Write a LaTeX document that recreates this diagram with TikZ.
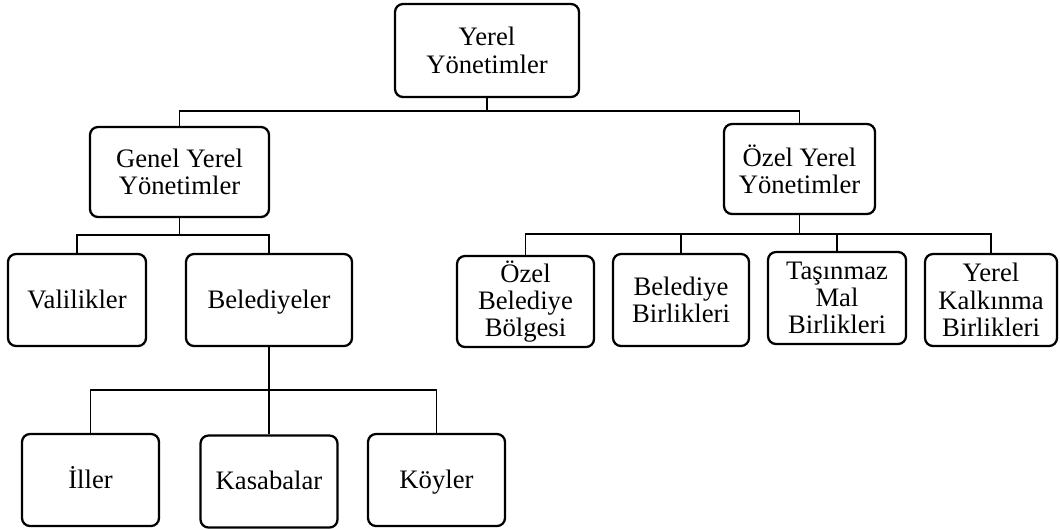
\documentclass[tikz,border=0pt]{standalone}
\usepackage{fontspec}
\setmainfont{Liberation Serif}
\usepackage{tikz}
\usetikzlibrary{positioning}

\begin{document}
\begin{tikzpicture}[x=0.75pt,y=0.75pt,yscale=-1,xscale=1,
    unit/.style={draw, line width=1.7pt, rounded corners=6pt, align=center, inner sep=0pt,
        font=\fontsize{20}{20.5}\selectfont},
    leaf/.style={unit, minimum width=102.75pt, minimum height=69pt},
    oneline/.style={text height=16pt, text depth=4pt},
    conn/.style={line width=1.4pt}]
    \useasboundingbox (0,0) rectangle (1060,529);

    % Top level
    \node [unit, minimum width=138pt, minimum height=69.75pt] (yerel) at (487,50.5) {Yerel\\Yönetimler};

    % Second level
    \node [unit, minimum width=134.25pt, minimum height=67.5pt] (genel) at (179.5,172) {Genel Yerel\\Yönetimler};
    \node [unit, minimum width=113.25pt, minimum height=67.5pt] (ozel) at (799.5,169) {Özel Yerel\\Yönetimler};

    % Genel yerel yonetimler
    \node [leaf, oneline, minimum width=103.5pt] (vali) at (77,300) {Valilikler};
    \node [leaf, oneline, minimum width=124.5pt] (beled) at (269,300) {Belediyeler};

    % Belediyeler
    \node [leaf, oneline, minimum height=69pt] (iller) at (90.5,480) {İller};
    \node [leaf, oneline, minimum height=69pt] (kasaba) at (269,481.5) {Kasabalar};
    \node [leaf, oneline, minimum height=69pt] (koy) at (436.5,480) {Köyler};

    % Ozel yerel yonetimler
    \node [leaf, minimum height=68.25pt] (obb) at (525.5,301.5) {Özel\\Belediye\\Bölgesi};
    \node [leaf, minimum width=102pt] (bbirlik) at (681,300) {Belediye\\Birlikleri};
    \node [leaf, minimum width=103.5pt] (tmbirlik) at (837,298) {Taşınmaz\\Mal\\Birlikleri};
    \node [leaf, minimum width=99pt] (ykbirlik) at (991,300) {Yerel\\Kalkınma\\Birlikleri};

    % Connectors
    \coordinate (bus1) at (487,111);
    \draw [conn] (yerel.south) -- (bus1) -| (genel.north);
    \draw [conn] (bus1) -| (ozel.north);

    \coordinate (bus2) at (179.5,235);
    \draw [conn] (genel.south) -- (bus2) -| (vali.north);
    \draw [conn] (bus2) -| (beled.north);

    \coordinate (bus3) at (269,390);
    \draw [conn] (beled.south) -- (kasaba.north);
    \draw [conn] (bus3) -| (iller.north);
    \draw [conn] (bus3) -| (koy.north);

    \coordinate (bus4) at (799.5,234);
    \draw [conn] (ozel.south) -- (bus4) -| (obb.north);
    \draw [conn] (bus4) -| (bbirlik.north);
    \draw [conn] (bus4) -| (tmbirlik.north);
    \draw [conn] (bus4) -| (ykbirlik.north);

\end{tikzpicture}
\end{document}
